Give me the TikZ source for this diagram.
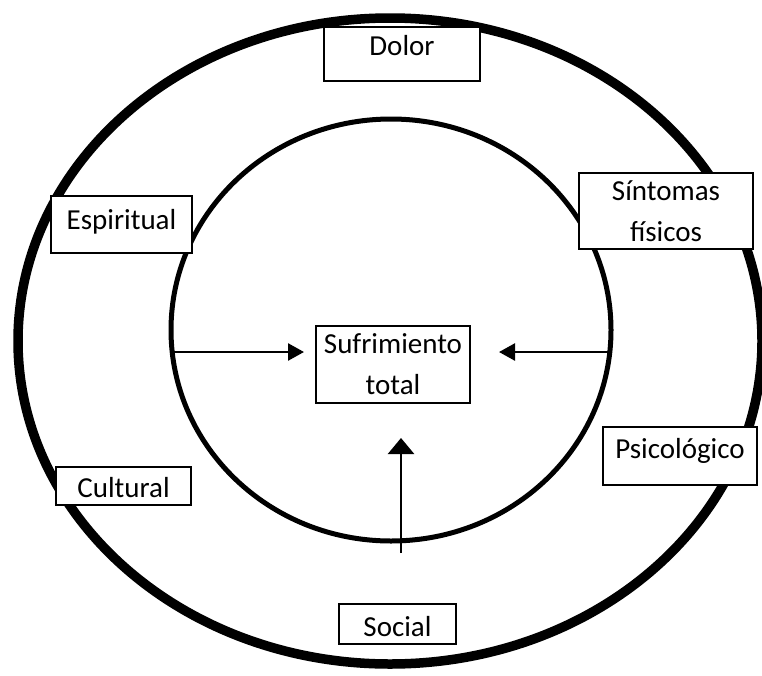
\documentclass[tikz,border=0pt]{standalone}
\usepackage{fontspec}
\setmainfont{Carlito}
\usetikzlibrary{arrows.meta, positioning}

\begin{document}
\begin{tikzpicture}[x=1pt, y=-1pt,
  caja/.style={draw, fill=white, line width=2pt, inner xsep=0pt, inner ysep=0pt, align=center, font=\fontsize{29}{41}\selectfont},
  flecha/.style={-{Triangle[length=16pt, width=17pt]}, line width=2.5pt}
]
\useasboundingbox (0,0) rectangle (762,675);

% anillos
\draw[line width=9.5pt] (390,341) ellipse [x radius=372, y radius=323];
\draw[line width=5pt] (391,330) ellipse [x radius=220, y radius=211];

\node[caja, minimum width=154pt, minimum height=77pt] (total) at (393,364.5) {Sufrimiento\\total};

\coordinate (izq) at (172,352);
\coordinate (der) at (611,352);
\coordinate (abajo) at (401,553);

\draw[flecha, shorten >=11pt] (izq) -- (izq -| total.west);
\draw[flecha, shorten >=28pt] (der) -- (der -| total.east);
\draw[flecha, -{Triangle[length=16pt, width=26pt]}, shorten >=34pt] (abajo) -- (abajo |- total.south);

\node[caja, minimum width=156pt, text height=28pt, text depth=26pt] (dolor) at (402,54) {Dolor};
\node[caja, minimum width=141pt, text height=33pt, text depth=24pt] (espiritual) at (121.5,224.5) {Espiritual};
\node[caja, minimum width=174pt, minimum height=76pt] (sintomas) at (666,211) {Síntomas\\físicos};
\node[caja, minimum width=154pt, text height=31pt, text depth=27pt] (psico) at (680,456) {Psicológico};
\node[caja, minimum width=135pt, text height=30pt, text depth=8pt] (cultural) at (123.5,486) {Cultural};
\node[caja, minimum width=117pt, text height=32pt, text depth=8pt] (social) at (397.5,624) {Social};
\end{tikzpicture}
\end{document}
